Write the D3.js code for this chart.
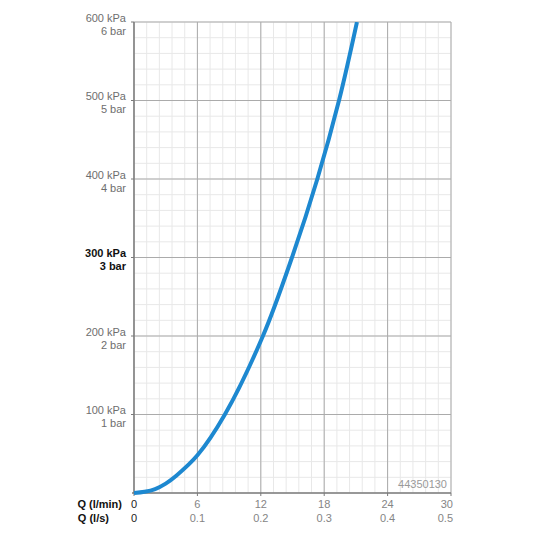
<!DOCTYPE html>
<html>
<head>
<meta charset="utf-8">
<script src="https://cdn.jsdelivr.net/npm/d3@7"></script>
<style>
  html, body { margin: 0; padding: 0; background: #fff; }
  svg { display: block; font-family: "Liberation Sans", Arial, Helvetica, sans-serif; }
</style>
</head>
<body>
<svg id="chart" width="536" height="536"></svg>
<script>
// ---- data ----
const flowLpm     = [0, 1, 2, 3, 4, 6, 8.6, 12.2, 14.95, 17.35, 19.4, 21.1];
const pressureKpa = [0, 1.5, 5, 12, 22, 48, 100, 200, 300, 400, 500, 600];
const yTicksKpa   = [100, 200, 300, 400, 500, 600];
const yLabelsKpa  = ["100 kPa", "200 kPa", "300 kPa", "400 kPa", "500 kPa", "600 kPa"];
const yLabelsBar  = ["1 bar", "2 bar", "3 bar", "4 bar", "5 bar", "6 bar"];
const xTicksLpm   = [0, 6, 12, 18, 24, 30];
const xLabelsLps  = ["0", "0.1", "0.2", "0.3", "0.4", "0.5"];
const productCode = "44350130";

// ---- layout ----
const svg = d3.select("#chart");
const x = d3.scaleLinear().domain([0, 30]).range([134, 451]);
const y = d3.scaleLinear().domain([0, 600]).range([493, 22]);

// minor grid
const minorX = d3.range(0, 30.001, 1.2);
const minorY = d3.range(0, 600.001, 20);
const g = svg.append("g");
g.selectAll(".mx").data(minorX).join("line")
  .attr("x1", d => x(d)).attr("x2", d => x(d))
  .attr("y1", y(0)).attr("y2", y(600))
  .attr("stroke", "#e8e8e8").attr("stroke-width", 1);
g.selectAll(".my").data(minorY).join("line")
  .attr("x1", x(0)).attr("x2", x(30))
  .attr("y1", d => y(d)).attr("y2", d => y(d))
  .attr("stroke", "#e8e8e8").attr("stroke-width", 1);

// major grid
g.selectAll(".Mx").data(xTicksLpm).join("line")
  .attr("x1", d => x(d)).attr("x2", d => x(d))
  .attr("y1", y(0)).attr("y2", y(600))
  .attr("stroke", "#ababab").attr("stroke-width", 1);
g.selectAll(".My").data(yTicksKpa).join("line")
  .attr("x1", x(0)).attr("x2", x(30))
  .attr("y1", d => y(d)).attr("y2", d => y(d))
  .attr("stroke", "#ababab").attr("stroke-width", 1);

// axes lines
svg.append("line").attr("x1", x(0)).attr("x2", x(0)).attr("y1", y(0)).attr("y2", y(600))
  .attr("stroke", "#7a7a7a").attr("stroke-width", 1.4);
svg.append("line").attr("x1", x(0) - 2).attr("x2", x(30)).attr("y1", y(0)).attr("y2", y(0))
  .attr("stroke", "#7a7a7a").attr("stroke-width", 1.4);
// y ticks
svg.selectAll(".yt").data(yTicksKpa).join("line")
  .attr("x1", x(0) - 3).attr("x2", x(0)).attr("y1", d => y(d)).attr("y2", d => y(d))
  .attr("stroke", "#7a7a7a");
// x ticks
svg.selectAll(".xt").data(xTicksLpm).join("line")
  .attr("x1", d => x(d)).attr("x2", d => x(d)).attr("y1", y(0)).attr("y2", y(0) + 3)
  .attr("stroke", "#7a7a7a");

// curve
const pts = flowLpm.map((q, i) => [q, pressureKpa[i]]);
svg.append("defs").append("clipPath").attr("id", "clip")
  .append("rect").attr("x", x(0)).attr("y", y(600)).attr("width", x(30) - x(0)).attr("height", y(0) - y(600) + 4);
svg.append("path")
  .datum(pts)
  .attr("clip-path", "url(#clip)")
  .attr("fill", "none")
  .attr("stroke", "#1d88d0")
  .attr("stroke-width", 4)
  .attr("stroke-linecap", "butt")
  .attr("d", d3.line().x(d => x(d[0])).y(d => y(d[1])).curve(d3.curveCatmullRom.alpha(0.5)));

// y labels
const yl = svg.append("g").attr("font-size", 11).attr("text-anchor", "end");
yTicksKpa.forEach((v, i) => {
  const bold = v === 300;
  const col = bold ? "#111" : "#6e6e6e";
  yl.append("text").attr("x", 126).attr("y", y(v) - 0.5).text(yLabelsKpa[i])
    .attr("fill", col).attr("font-weight", bold ? "bold" : "normal");
  yl.append("text").attr("x", 126).attr("y", y(v) + 12.5).text(yLabelsBar[i])
    .attr("fill", col).attr("font-weight", bold ? "bold" : "normal");
});

// x labels
const xl = svg.append("g").attr("font-size", 11);
xTicksLpm.forEach((v, i) => {
  const last = i === xTicksLpm.length - 1;
  const px = last ? x(v) + 2 : x(v);
  const anchor = last ? "end" : "middle";
  const col = v === 0 ? "#222" : "#858585";
  xl.append("text").attr("x", px).attr("y", 508).attr("text-anchor", anchor).attr("fill", col).text(String(v));
  xl.append("text").attr("x", px).attr("y", 522).attr("text-anchor", anchor).attr("fill", col).text(xLabelsLps[i]);
});
xl.append("text").attr("x", 122).attr("y", 508).attr("text-anchor", "end")
  .attr("font-weight", "bold").attr("fill", "#111").text("Q (l/min)");
xl.append("text").attr("x", 109).attr("y", 522).attr("text-anchor", "end")
  .attr("font-weight", "bold").attr("fill", "#111").text("Q (l/s)");

// product code
svg.append("text").attr("x", 447).attr("y", 488).attr("text-anchor", "end")
  .attr("font-size", 11).attr("fill", "#999").text(productCode);
</script>
</body>
</html>
